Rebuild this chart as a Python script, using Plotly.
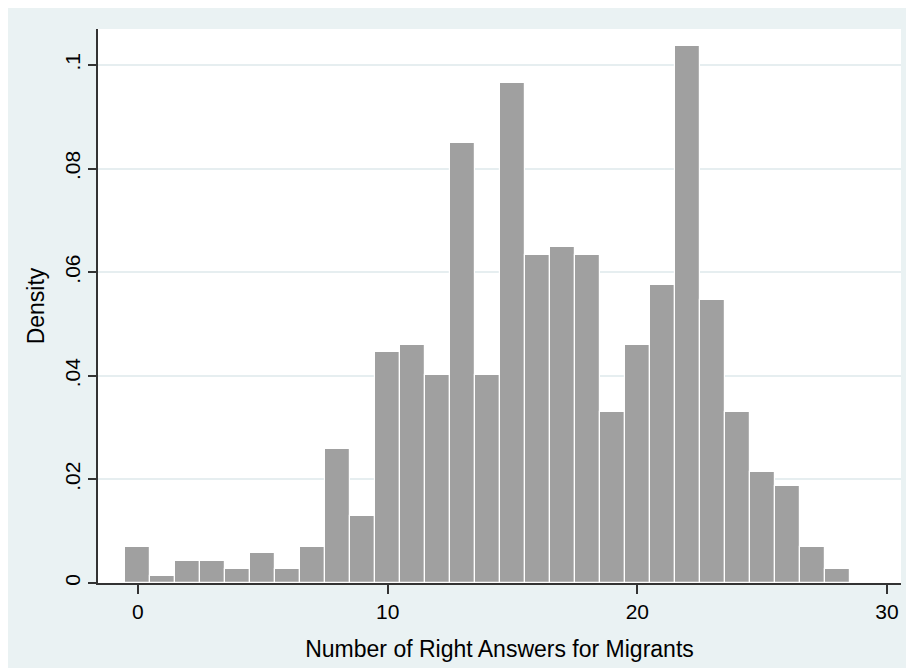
import plotly.graph_objects as go

# Data (bin centres = number of right answers)
answers = list(range(0, 29))
density = [0.0070, 0.0013, 0.0042, 0.0042, 0.0028, 0.0057, 0.0028, 0.0070,
           0.0258, 0.0129, 0.0446, 0.0460, 0.0401, 0.0849, 0.0401, 0.0966,
           0.0633, 0.0648, 0.0633, 0.0330, 0.0460, 0.0575, 0.1037, 0.0546,
           0.0330, 0.0215, 0.0187, 0.0070, 0.0028]

y_ticks = [0, 0.02, 0.04, 0.06, 0.08, 0.1]
y_tick_labels = ["0", ".02", ".04", ".06", ".08", ".1"]
x_ticks = [0, 10, 20, 30]
x_tick_labels = ["0", "10", "20", "30"]

BG = "#EAF2F3"
FONT = "Liberation Sans, Arial, Helvetica, sans-serif"

fig = go.Figure(go.Bar(
    x=answers, y=density, width=1,
    marker=dict(color="#A0A0A0", line=dict(color="#FFFFFF", width=1.2)),
))

fig.update_layout(
    width=906, height=660,
    margin=dict(l=90, r=13, t=21, b=85),
    paper_bgcolor=BG, plot_bgcolor="#FFFFFF",
    showlegend=False, bargap=0,
    font=dict(family=FONT, color="#000000", size=21),
)

fig.update_xaxes(
    range=[-1.6, 30.56], tickvals=x_ticks, ticktext=x_tick_labels,
    ticks="outside", ticklen=9, tickwidth=1.5, tickcolor="#333333",
    showline=True, linecolor="#333333", linewidth=1.5,
    showgrid=False, zeroline=False, automargin=False,
    tickfont=dict(size=21),
    title=dict(text="Number of Right Answers for Migrants", font=dict(size=23), standoff=19),
)
fig.update_yaxes(
    range=[0, 0.10695], tickvals=y_ticks, ticktext=y_tick_labels,
    ticks="outside", ticklen=8, tickwidth=1.5, tickcolor="#333333",
    showline=True, linecolor="#333333", linewidth=1.5,
    showgrid=True, gridcolor="#E6EEF0", gridwidth=1.5, zeroline=False,
    automargin=False,
    tickangle=-90, tickfont=dict(size=21),
    title=dict(text="Density", font=dict(size=23), standoff=10),
)

fig.write_html("out.html")
